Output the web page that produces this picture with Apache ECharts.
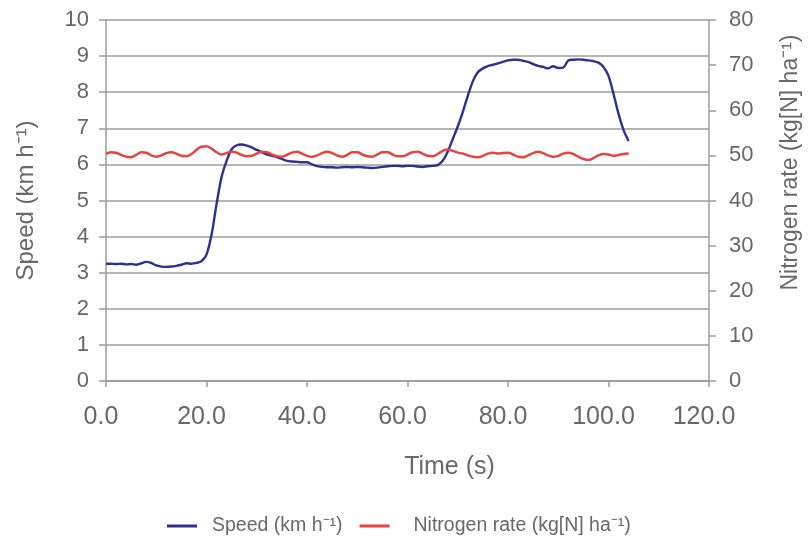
<!DOCTYPE html>
<html>
<head>
<meta charset="utf-8">
<script src="https://cdn.jsdelivr.net/npm/echarts@6/dist/echarts.min.js"></script>
<style>
  html, body { margin: 0; padding: 0; background: #fff; }
  #chart { width: 810px; height: 538px; }
</style>
</head>
<body>
<div id="chart"></div>
<script>
// samples are 1 s apart, starting at t = 0
var sampleStep = 1;

// speed (km h-1)
var speedData = [
  3.25, 3.25, 3.24, 3.25, 3.23, 3.24, 3.22, 3.26, 3.30, 3.27,
  3.20, 3.17, 3.16, 3.17, 3.19, 3.22, 3.26, 3.25, 3.27, 3.32,
  3.50, 4.05, 4.90, 5.65, 6.10, 6.42, 6.53, 6.55, 6.52, 6.47,
  6.40, 6.34, 6.28, 6.24, 6.20, 6.15, 6.10, 6.08, 6.07, 6.06,
  6.06, 6.00, 5.95, 5.93, 5.92, 5.92, 5.91, 5.92, 5.93, 5.92,
  5.93, 5.92, 5.91, 5.90, 5.91, 5.93, 5.95, 5.96, 5.96, 5.95,
  5.96, 5.96, 5.94, 5.93, 5.95, 5.96, 5.98, 6.10, 6.35, 6.70,
  7.05, 7.45, 7.90, 8.30, 8.55, 8.66, 8.72, 8.76, 8.80, 8.84,
  8.88, 8.90, 8.90, 8.87, 8.84, 8.78, 8.73, 8.70, 8.66, 8.72,
  8.67, 8.68, 8.88, 8.90, 8.91, 8.90, 8.88, 8.86, 8.82, 8.70,
  8.45, 7.95, 7.40, 6.95, 6.65
];

// nitrogen rate (kg[N] ha-1)
var nitrogenData = [
  50.3, 50.7, 50.6, 50.1, 49.7, 49.6, 50.1, 50.7, 50.6, 50.0,
  49.7, 50.0, 50.5, 50.7, 50.4, 49.9, 49.8, 50.3, 51.2, 51.9,
  52.0, 51.5, 50.7, 50.2, 50.5, 50.8, 50.6, 50.1, 49.8, 49.9,
  50.4, 50.8, 50.7, 50.2, 49.8, 49.7, 50.1, 50.6, 50.8, 50.4,
  49.9, 49.7, 50.0, 50.5, 50.8, 50.5, 50.0, 49.7, 50.1, 50.7,
  50.7, 50.2, 49.8, 49.7, 50.2, 50.7, 50.7, 50.2, 49.8, 49.8,
  50.2, 50.7, 50.8, 50.4, 49.9, 49.8, 50.3, 51.0, 51.3, 51.0,
  50.6, 50.4, 50.0, 49.7, 49.6, 49.9, 50.4, 50.6, 50.4, 50.5,
  50.6, 50.2, 49.7, 49.6, 50.0, 50.5, 50.8, 50.5, 50.0, 49.7,
  49.9, 50.4, 50.6, 50.3, 49.7, 49.2, 49.0, 49.4, 50.0, 50.3,
  50.2, 49.9, 50.1, 50.3, 50.4
];

var speedTicks = [0, 10, 1];      // min, max, interval
var nitrogenTicks = [0, 80, 10];
var timeTicks = [0, 120, 20];

function toPairs(arr) {
  var out = [];
  for (var i = 0; i < arr.length; i++) {
    out.push([i * sampleStep, arr[i]]);
  }
  return out;
}

var labelColor = "#686868";
var lineGray = "#9c9c9c";
var fontFam = "Liberation Sans, Arial, sans-serif";

var chart = echarts.init(document.getElementById("chart"), null, { renderer: "canvas" });
chart.setOption({
  backgroundColor: "#fff",
  animation: false,
  grid: { left: 106, right: 98, top: 20, bottom: 157 },
  legend: {
    left: 162,
    top: 511,
    icon: "rect",
    itemWidth: 30,
    itemHeight: 3,
    itemGap: 17,
    textStyle: { color: labelColor, fontSize: 19.5, fontFamily: fontFam, padding: [0, 0, 0, 10] },
    data: [
      { name: "Speed (km h⁻¹)" },
      { name: "Nitrogen rate (kg[N] ha⁻¹)", textStyle: { padding: [0, 0, 0, 19] } }
    ]
  },
  xAxis: {
    type: "value",
    min: timeTicks[0],
    max: timeTicks[1],
    interval: timeTicks[2],
    name: "Time (s)",
    nameLocation: "middle",
    nameGap: 74,
    nameTextStyle: { color: labelColor, fontSize: 25, fontFamily: fontFam, padding: [0, 0, 0, 84] },
    axisLine: { lineStyle: { color: lineGray, width: 1.5 } },
    axisTick: { show: true, length: 6, lineStyle: { color: lineGray, width: 1.5 } },
    axisLabel: {
      color: labelColor, fontSize: 25, fontFamily: fontFam, margin: 24,
      padding: [0, 10, 0, 0],
      formatter: function (v) { return v.toFixed(1); }
    },
    splitLine: { show: false }
  },
  yAxis: [
    {
      type: "value",
      min: speedTicks[0],
      max: speedTicks[1],
      interval: speedTicks[2],
      name: "Speed (km h⁻¹)",
      nameLocation: "middle",
      nameRotate: 90,
      nameGap: 68,
      nameTextStyle: { color: labelColor, fontSize: 24, fontFamily: fontFam },
      axisLine: { show: true, lineStyle: { color: lineGray, width: 1.5 } },
      axisTick: { show: true, length: 7, lineStyle: { color: lineGray, width: 1.5 } },
      axisLabel: { color: labelColor, fontSize: 22, fontFamily: fontFam, margin: 17 },
      splitLine: { show: true, lineStyle: { color: lineGray, width: 1.6 } }
    },
    {
      type: "value",
      position: "right",
      min: nitrogenTicks[0],
      max: nitrogenTicks[1],
      interval: nitrogenTicks[2],
      name: "Nitrogen rate (kg[N] ha⁻¹)",
      nameLocation: "middle",
      nameRotate: 90,
      nameGap: 70,
      nameTextStyle: { color: labelColor, fontSize: 23, fontFamily: fontFam, padding: [0, 0, 0, 76] },
      axisLine: { show: true, lineStyle: { color: lineGray, width: 1.5 } },
      axisTick: { show: true, length: 7, lineStyle: { color: lineGray, width: 1.5 } },
      axisLabel: { color: labelColor, fontSize: 22, fontFamily: fontFam, margin: 20 },
      splitLine: { show: false }
    }
  ],
  series: [
    {
      name: "Speed (km h⁻¹)",
      type: "line",
      yAxisIndex: 0,
      data: toPairs(speedData),
      showSymbol: false,
      smooth: 0.3,
      color: "#2d3190",
      lineStyle: { width: 2.4, color: "#2d3190" }
    },
    {
      name: "Nitrogen rate (kg[N] ha⁻¹)",
      type: "line",
      yAxisIndex: 1,
      data: toPairs(nitrogenData),
      showSymbol: false,
      smooth: 0.4,
      color: "#e8443f",
      lineStyle: { width: 2.5, color: "#e8443f" }
    }
  ]
});
</script>
</body>
</html>
